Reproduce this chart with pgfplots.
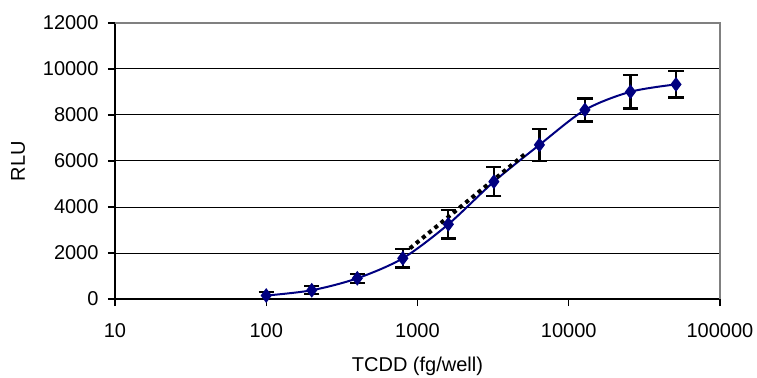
\documentclass[border=0pt]{standalone}
\usepackage{pgfplots}
\pgfplotsset{compat=1.18}
\usepackage{fontspec}
\setmainfont{Liberation Sans}
\definecolor{navy}{RGB}{0,0,128}
\begin{document}
\begin{tikzpicture}
\begin{axis}[
 scale only axis, width=302.5pt, height=138pt,
 xmode=log, xmin=10, xmax=100000,
 ymin=0, ymax=12000,
 xtick={10,100,1000,10000,100000},
 xticklabels={10,100,1000,10000,100000},
 xminorticks=false,
 ytick={0,2000,...,12000},
 scaled y ticks=false,
 yticklabel={\pgfmathprintnumber[fixed,precision=0,1000 sep={}]{\tick}},
 /pgf/number format/assume math mode=true,
 ymajorgrids, grid style={black, line width=0.5pt},
 tick pos=left, tick align=outside, major tick length=3.5pt,
 tick style={black, line width=0.6pt},
 axis line style={draw=none},
 font=\fontsize{10}{12}\selectfont,
 xticklabel style={yshift=-5pt},
 yticklabel style={xshift=-1.2pt},
 xlabel={TCDD (fg/well)},
 ylabel={RLU},
 xlabel style={at={(axis description cs:0.5,-0.261)}, anchor=base},
 ylabel style={at={(axis description cs:-0.160,0.5)}, anchor=center},
 clip=false,
]
\addplot[navy, line width=1pt, smooth, mark=diamond*, mark size=2.9pt,
  mark options={fill=navy, draw=navy, solid},
  error bars/.cd, y dir=both, y explicit,
  error bar style={black, line width=1.1pt, solid},
  error mark options={rotate=90, black, mark size=3.8pt, line width=1.1pt}]
 table[x=x, y=y, y error=e] {
x y e
100 150 150
200 380 175
400 900 200
800 1770 400
1600 3250 620
3200 5100 630
6400 6700 700
12800 8220 500
25600 9010 730
51200 9330 570
};
\addplot[black, line width=2pt, dash pattern=on 2pt off 2pt] coordinates {(891,2200) (5270,6360)};
\draw[black, line width=0.6pt] (rel axis cs:0,0) -- (rel axis cs:0,1);
\draw[black, line width=0.6pt] (rel axis cs:0,0) -- (rel axis cs:1,0);
\draw[gray, line width=1pt] (rel axis cs:0,1) -- (rel axis cs:1,1) -- (rel axis cs:1,0);
\coordinate (bl) at (rel axis cs:-0.190,-0.2826);
\coordinate (tr) at (rel axis cs:1.0612,1.0833);
\end{axis}
\pgfresetboundingbox
\path[use as bounding box] (bl) rectangle (tr);
\end{tikzpicture}
\end{document}
